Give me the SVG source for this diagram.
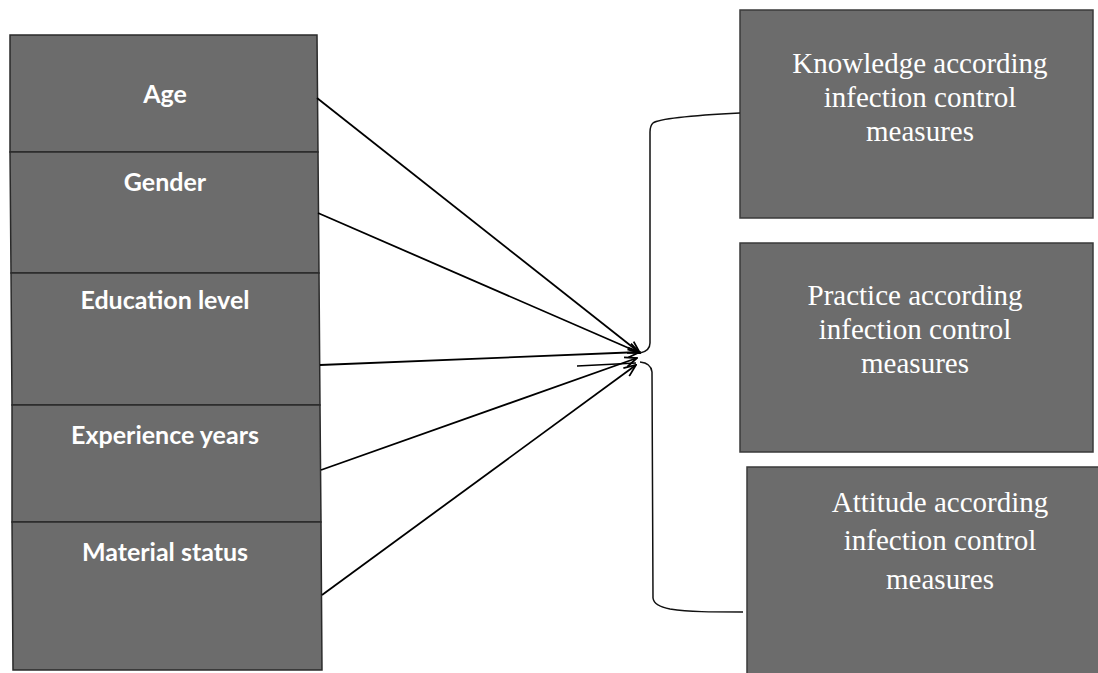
<svg xmlns="http://www.w3.org/2000/svg" width="1098" height="673" viewBox="0 0 1098 673">
<style>
.cell{fill:#6c6c6c;stroke:#2a2a2a;stroke-width:1.5}
.box{fill:#6c6c6c;stroke:#3a3a3a;stroke-width:1.5}
.lt{font-family:Lato,"Liberation Sans",sans-serif;font-weight:bold;font-size:25px;fill:#ffffff;text-anchor:middle}
.rt{font-family:"Liberation Serif","Times New Roman",serif;font-size:29px;fill:#ffffff;text-anchor:middle}
.arr{stroke:#000;stroke-width:1.8;fill:none;marker-end:url(#ah)}
.br{stroke:#111;stroke-width:1.5;fill:none}
</style>
<defs>
<marker id="ah" viewBox="0 0 14 12" refX="13" refY="6" markerWidth="14" markerHeight="12" markerUnits="userSpaceOnUse" orient="auto">
<path d="M1,1 L13,6 L1,11" fill="none" stroke="#000" stroke-width="1.8"/>
</marker>
</defs>
<rect width="1098" height="673" fill="#ffffff"/>
<g id="age"><polygon class="cell" points="10,35 317,35 318,152 10,152"/><text class="lt" x="165" y="103">Age</text></g>
<g id="gender"><polygon class="cell" points="10,152 318,152 319,273 11,273"/><text class="lt" x="165" y="191">Gender</text></g>
<g id="education"><polygon class="cell" points="11,273 319,273 320,405 12,405"/><text class="lt" x="165" y="309">Education level</text></g>
<g id="experience"><polygon class="cell" points="12,405 320,405 321,522 12,522"/><text class="lt" x="165" y="444">Experience years</text></g>
<g id="marital"><polygon class="cell" points="12,522 321,522 322,670 13,670"/><text class="lt" x="165" y="561">Material status</text></g>
<g id="knowledge"><rect class="box" x="740" y="10" width="353" height="208"/>
<text class="rt" x="920" y="73">Knowledge according</text>
<text class="rt" x="920" y="107">infection control</text>
<text class="rt" x="920" y="141">measures</text></g>
<g id="practice"><rect class="box" x="740" y="243" width="353" height="209"/>
<text class="rt" x="915" y="305">Practice according</text>
<text class="rt" x="915" y="339">infection control</text>
<text class="rt" x="915" y="373">measures</text></g>
<g id="attitude"><rect class="box" x="747" y="467" width="360" height="215"/>
<text class="rt" x="940" y="512">Attitude according</text>
<text class="rt" x="940" y="550">infection control</text>
<text class="rt" x="940" y="589">measures</text></g>
<g id="connectors">
<line class="arr" x1="317" y1="98" x2="640" y2="353"/>
<line class="arr" x1="318" y1="213" x2="640" y2="353"/>
<line class="arr" x1="320" y1="365" x2="640" y2="352"/>
<line class="arr" x1="321" y1="470" x2="637" y2="358"/>
<line class="arr" x1="322" y1="595" x2="636" y2="365"/>
<line stroke="#000" stroke-width="1.5" x1="577" y1="366" x2="636" y2="363"/>
<path class="br" d="M740,113 C700,115 660,118 653,123 Q650,126 650,132 L650,343 Q650,351 640,353"/>
<path class="br" d="M640,362 Q651,363 652,372 L653,598 Q654,606 670,609 C690,612 710,612 743,612"/>
</g>
</svg>
